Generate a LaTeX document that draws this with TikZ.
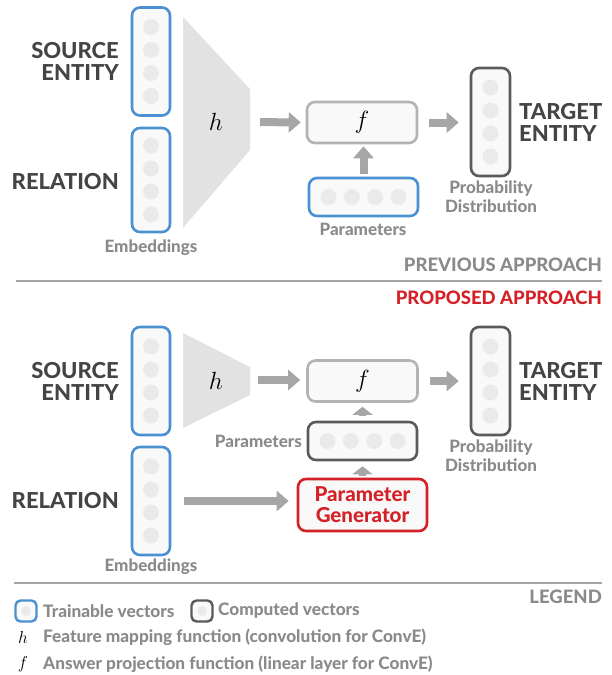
\documentclass[tikz,border=0pt]{standalone}
\usepackage{fontspec}
\IfFontExistsTF{Lato Heavy}{\setmainfont{Lato}[BoldFont={Lato Heavy}]}{\setmainfont{Lato}}
\usepackage{tikz}
\usetikzlibrary{positioning, arrows.meta}

\definecolor{vecblue}{RGB}{75,145,210}
\definecolor{vecdark}{RGB}{90,90,90}
\definecolor{propred}{RGB}{212,32,39}
\definecolor{darktext}{RGB}{68,68,68}
\definecolor{graytext}{RGB}{138,138,138}
\definecolor{arrowgray}{RGB}{166,166,166}
\definecolor{trapgray}{RGB}{226,226,226}
\definecolor{dotgray}{RGB}{234,234,234}
\definecolor{boxfill}{RGB}{249,249,249}

\tikzset{
  vecbox/.style={rounded corners=8pt, line width=2.6pt, fill=boxfill, inner sep=0pt},
  trainvec/.style={vecbox, draw=vecblue},
  compvec/.style={vecbox, draw=vecdark},
  funcbox/.style={vecbox, draw=arrowgray!85, minimum width=110pt, minimum height=41pt, font=\fontsize{27}{27}\selectfont},
  genbox/.style={vecbox, draw=propred, minimum width=129pt, minimum height=52pt, align=center, text=propred, font=\bfseries\fontsize{20.5}{21}\selectfont},
  bigtext/.style={inner sep=0pt, text=darktext, font=\bfseries\fontsize{22}{22}\selectfont},
  smalltext/.style={inner sep=0pt, text=graytext, align=center, font=\bfseries\fontsize{17}{19}\selectfont},
  headtext/.style={inner sep=0pt, anchor=east, font=\bfseries\fontsize{18.5}{18}\selectfont},
  legtext/.style={inner sep=0pt, anchor=west, text=graytext, font=\bfseries\fontsize{17.2}{18}\selectfont},
  fatarrow/.style={draw=arrowgray, line width=8pt, -{Triangle[length=12pt,width=20pt]}},
  smallarrow/.style={draw=arrowgray, line width=7pt, -{Triangle[length=8pt,width=20pt]}},
  trap/.style={fill=trapgray},
  dot/.style={fill=dotgray},
}

\begin{document}
\begin{tikzpicture}[x=1pt,y=1pt,yscale=-1,xscale=1]
  \path[use as bounding box] (0,0) rectangle (611,675);

  %%%%%%%% previous approach
  % vectors
  \node[trainvec, minimum width=38pt, minimum height=108pt] (src1) at (151,61.5) {};
  \node[trainvec, minimum width=38pt, minimum height=104pt] (rel1) at (151,180) {};
  \node[compvec, minimum width=39pt, minimum height=108pt] (tgt1) at (490.5,122) {};
  \node[trainvec, minimum width=109pt, minimum height=38pt] (par1) at (363.5,197) {};
  \foreach \n in {src1,rel1,tgt1}
    \foreach \dy in {-34.5,-11.5,11.5,34.5}
      \fill[dot] ([yshift=-\dy]\n.center) circle (8);
  \foreach \dx in {-35,-11.7,11.7,35}
    \fill[dot] ([xshift=\dx]par1.center) circle (8);

  % feature mapping h
  \fill[trap] (183,17) -- (250,89) -- (250,150) -- (183,228) -- cycle;
  \node (hmap1) at (216,122) {\fontsize{27}{27}\selectfont$h$};
  \coordinate (hout1) at (250,122);
  \node[funcbox] (f1) at (362,122.5) {$f$};

  % arrows
  \draw[fatarrow, shorten <=10pt, shorten >=5pt] (hout1) -- (f1.west);
  \draw[fatarrow, shorten <=11pt, shorten >=11pt] (f1.east) -- (f1.east -| tgt1.west);
  \draw[fatarrow, shorten <=3pt, shorten >=2pt] (par1.north) -- (par1.north |- f1.south);

  % labels
  \node[bigtext, anchor=east, align=right] (srclab1) at (119,61) {SOURCE\\ENTITY};
  \node[bigtext, anchor=east] (rellab1) at (119,182) {RELATION};
  \node[bigtext, anchor=west, align=left] (tgtlab1) at (519,122) {TARGET\\ENTITY};
  \node[smalltext] (emblab1) at (151,248) {Embeddings};
  \node[smalltext] (parlab1) at (363,229) {Parameters};
  \node[smalltext] (problab1) at (491,197) {Probability\\Distribution};
  \node[headtext, text=graytext] (prevlab) at (602,265) {PREVIOUS APPROACH};

  \draw[arrowgray, line width=1.5pt] (16,281) -- (602,281);

  %%%%%%%% proposed approach
  \node[headtext, text=propred] (proplab) at (602,298) {PROPOSED APPROACH};

  % vectors
  \node[trainvec, minimum width=38pt, minimum height=108pt] (src2) at (151,381) {};
  \node[trainvec, minimum width=38pt, minimum height=108pt] (rel2) at (151,501) {};
  \node[compvec, minimum width=39pt, minimum height=108pt] (tgt2) at (490.5,381) {};
  \node[compvec, minimum width=109pt, minimum height=38pt] (par2) at (362.5,441) {};
  \foreach \n in {src2,rel2,tgt2}
    \foreach \dy in {-34.5,-11.5,11.5,34.5}
      \fill[dot] ([yshift=-\dy]\n.center) circle (8);
  \foreach \dx in {-35,-11.7,11.7,35}
    \fill[dot] ([xshift=\dx]par2.center) circle (8);

  % feature mapping h
  \fill[trap] (183,333) -- (250,367) -- (250,395) -- (183,428) -- cycle;
  \node (hmap2) at (216,381) {\fontsize{27}{27}\selectfont$h$};
  \coordinate (hout2) at (250,380);
  \node[funcbox] (f2) at (362.5,381) {$f$};
  \node[genbox] (gen) at (362.5,505) {Parameter\\Generator};

  % arrows
  \draw[fatarrow, shorten <=8pt, shorten >=6pt] (hout2) -- (hout2 -| f2.west);
  \draw[fatarrow, shorten <=11pt, shorten >=11pt] (f2.east) -- (f2.east -| tgt2.west);
  \draw[fatarrow, shorten <=13pt, shorten >=8pt] (rel2.east) -- (rel2.east -| gen.west);
  \draw[smallarrow, shorten <=5pt, shorten >=4pt] (par2.north) -- (f2.south);
  \draw[smallarrow, shorten <=2pt, shorten >=5pt] (gen.north) -- (par2.south);

  % labels
  \node[bigtext, anchor=east, align=right] (srclab2) at (119,381) {SOURCE\\ENTITY};
  \node[bigtext, anchor=east] (rellab2) at (119,501) {RELATION};
  \node[bigtext, anchor=west, align=left] (tgtlab2) at (519,381) {TARGET\\ENTITY};
  \node[smalltext] (emblab2) at (151,567) {Embeddings};
  \node[smalltext, anchor=east] (parlab2) at (302,441) {Parameters};
  \node[smalltext] (problab2) at (491,456) {Probability\\Distribution};

  \draw[arrowgray, line width=1.5pt] (14,583) -- (602,583);

  %%%%%%%% legend
  \node[headtext, text=graytext] (leglab) at (602,597) {LEGEND};
  \node[trainvec, minimum width=21pt, minimum height=21pt, rounded corners=5pt, line width=2.4pt] (legtrain) at (26,611) {};
  \node[compvec, minimum width=21pt, minimum height=21pt, rounded corners=5pt, line width=2.4pt] (legcomp) at (202,611) {};
  \fill[dot] (legtrain.center) circle (5);
  \fill[dot] (legcomp.center) circle (5);
  \node[legtext] (legtrainlab) at (43,611) {Trainable vectors};
  \node[legtext] (legcomplab) at (218,611) {Computed vectors};
  \node (legh) at (23,637) {\fontsize{16}{16}\selectfont$h$};
  \node[legtext] (leghlab) at (43,637) {Feature mapping function (convolution for ConvE)};
  \node (legf) at (23,664) {\fontsize{16}{16}\selectfont$f$};
  \node[legtext] (legflab) at (43,664) {Answer projection function (linear layer for ConvE)};
\end{tikzpicture}
\end{document}
